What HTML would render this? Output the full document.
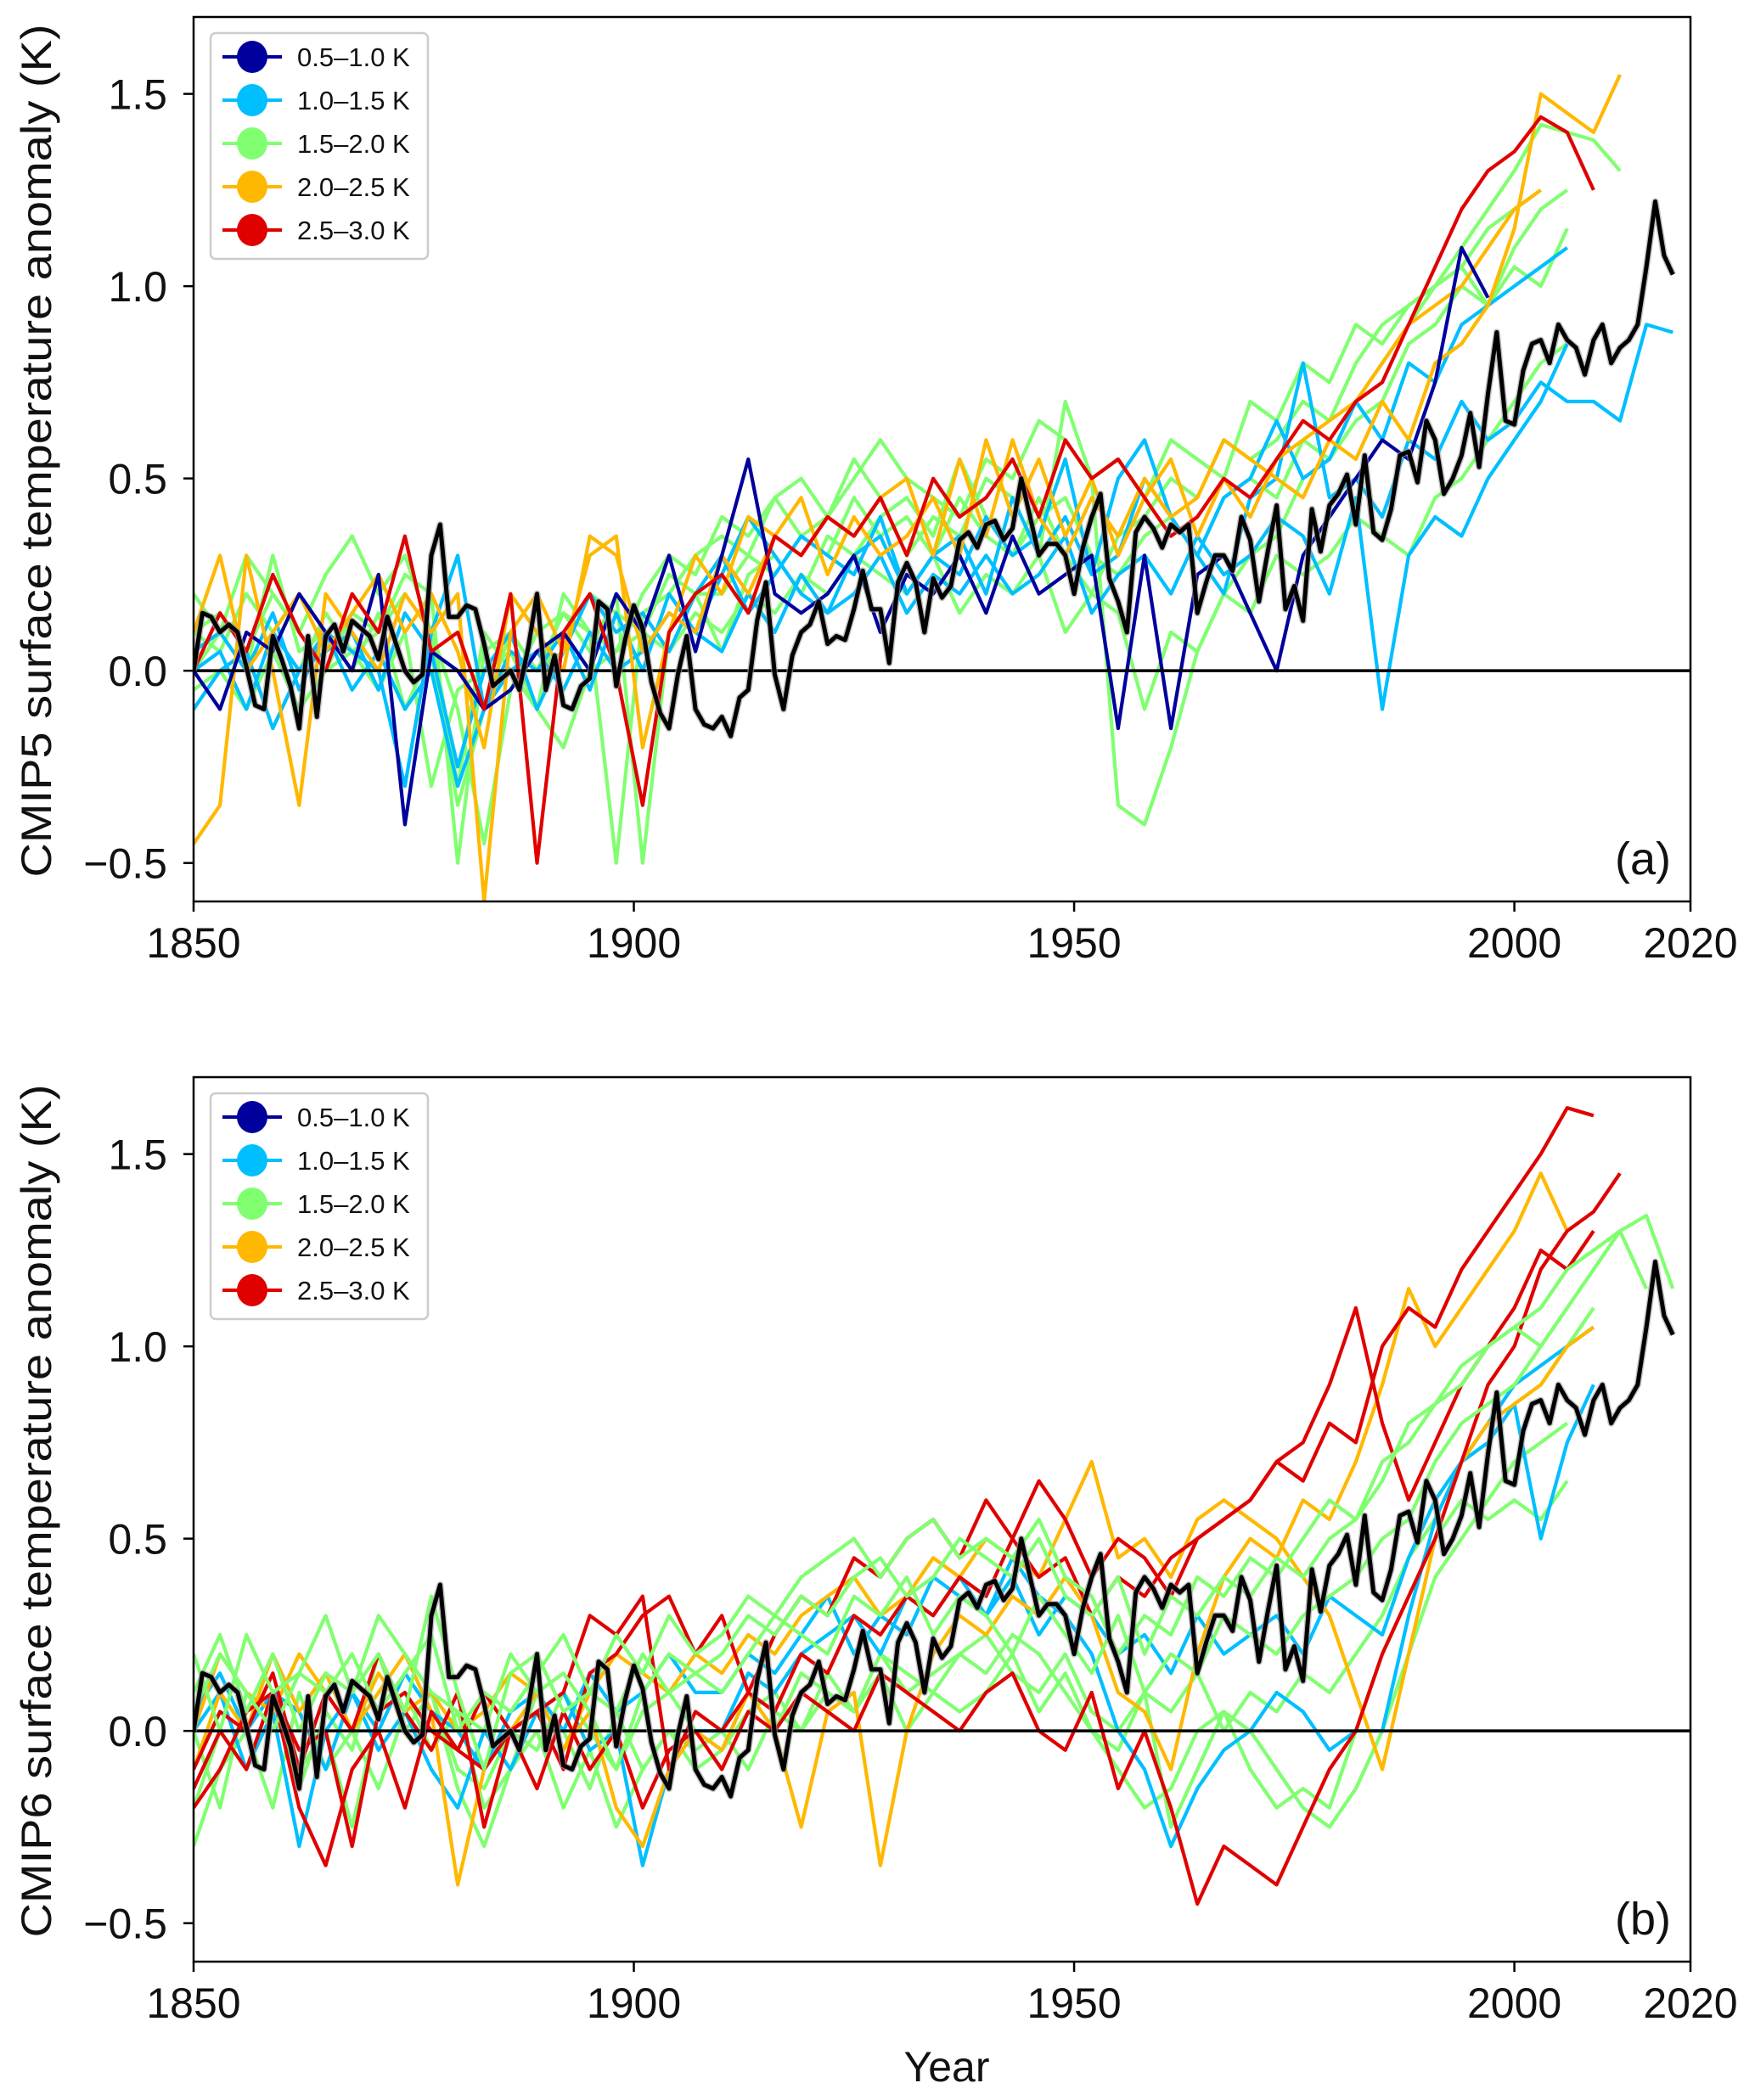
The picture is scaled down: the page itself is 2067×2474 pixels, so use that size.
<!DOCTYPE html>
<html><head><meta charset="utf-8">
<style>
html,body{margin:0;padding:0;background:#fff;}
svg{display:block;font-family:"Liberation Sans","DejaVu Sans",sans-serif;}
</style></head>
<body>
<svg id="fig" width="2067" height="2474" viewBox="0 0 2067 2474" xmlns="http://www.w3.org/2000/svg"></svg>
<script>
// ---------- data ----------
const xTickValues = [1850, 1900, 1950, 2000, 2020];
const xTickLabels = ["1850", "1900", "1950", "2000", "2020"];
const yTickValues = [-0.5, 0.0, 0.5, 1.0, 1.5];
const yTickLabels = ["\u22120.5", "0.0", "0.5", "1.0", "1.5"];
const legendLabels = ["0.5\u20131.0 K", "1.0\u20131.5 K", "1.5\u20132.0 K", "2.0\u20132.5 K", "2.5\u20133.0 K"];
const legendColors = ["#00009c", "#00bfff", "#80ff70", "#ffb800", "#e00000"];
const modelStartYear = 1850;
const modelStepYears = 3;
const obsStartYear = 1850;
// observed anomaly (K), annual 1850-2018
const obsValues = [
0.00,0.15,0.14,0.10,0.12,0.10,0.01,-0.09,-0.10,0.09,
0.03,-0.04,-0.15,0.09,-0.12,0.09,0.12,0.05,0.13,0.11,
0.09,0.03,0.14,0.07,0.00,-0.03,-0.01,0.30,0.38,0.14,
0.14,0.17,0.16,0.07,-0.04,-0.02,0.00,-0.05,0.06,0.20,
-0.05,0.04,-0.09,-0.10,-0.04,-0.02,0.18,0.16,-0.04,0.08,
0.17,0.11,-0.03,-0.11,-0.15,-0.01,0.09,-0.10,-0.14,-0.15,
-0.12,-0.17,-0.07,-0.05,0.13,0.23,-0.01,-0.10,0.04,0.10,
0.12,0.18,0.07,0.09,0.08,0.16,0.26,0.16,0.16,0.02,
0.23,0.28,0.23,0.10,0.24,0.19,0.22,0.34,0.36,0.32,
0.38,0.39,0.34,0.37,0.50,0.40,0.30,0.33,0.33,0.30,
0.20,0.32,0.40,0.46,0.24,0.18,0.10,0.36,0.40,0.37,
0.32,0.38,0.36,0.38,0.15,0.23,0.30,0.30,0.26,0.40,
0.34,0.18,0.31,0.43,0.16,0.22,0.13,0.42,0.31,0.43,
0.46,0.51,0.38,0.56,0.36,0.34,0.42,0.56,0.57,0.49,
0.65,0.60,0.46,0.50,0.56,0.67,0.53,0.72,0.88,0.65,
0.64,0.78,0.85,0.86,0.80,0.90,0.86,0.84,0.77,0.86,
0.90,0.80,0.84,0.86,0.90,1.05,1.22,1.08,1.03];

// Panel (a) CMIP5 model series, 3-yearly from 1850
const a_blue1 = [0.0,-0.1,0.1,0.05,0.2,0.1,0.0,0.25,-0.4,0.05, 0.0,-0.1,-0.05,0.05,0.1,0.0,0.2,0.1,0.3,0.05, 0.3,0.55,0.2,0.15,0.2,0.3,0.1,0.25,0.2,0.3, 0.15,0.35,0.2,0.25,0.3,-0.15,0.3,-0.15,0.25,0.3, 0.15,0.0,0.3,0.4,0.5,0.6,0.55,0.75,1.1,0.97];
const a_cyan1 = [0.05,0.1,0.0,0.15,-0.05,0.1,0.05,0.0,-0.3,0.1, 0.3,-0.1,0.05,0.0,0.1,-0.05,0.15,0.0,0.2,0.1, 0.25,0.4,0.3,0.2,0.15,0.3,0.35,0.2,0.3,0.25, 0.4,0.3,0.35,0.55,0.25,0.3,0.5,0.4,0.3,0.2, 0.45,0.5,0.8,0.45,0.5,0.4,0.6,0.55,0.7,0.6, 0.65,0.75,0.7,0.7,0.65,0.9,0.88];
const a_cyan2 = [0.0,0.05,-0.1,0.1,0.0,0.05,0.1,-0.05,0.15,0.05, -0.25,0.0,0.1,-0.1,0.05,0.2,0.1,0.15,0.05,0.2, 0.3,0.15,0.25,0.35,0.3,0.25,0.4,0.2,0.3,0.35, 0.2,0.45,0.3,0.4,0.25,0.5,0.6,0.4,0.3,0.45, 0.5,0.65,0.5,0.55,0.7,0.6,0.8,0.75,0.9,0.95, 1.0,1.05,1.1];
const a_cyan3 = [-0.1,0.0,0.05,-0.15,0.0,0.1,-0.05,0.05,-0.1,0.0, -0.3,-0.1,0.0,0.05,-0.05,0.1,0.0,0.05,0.15,0.1, 0.05,0.2,0.1,0.25,0.15,0.2,0.3,0.15,0.25,0.2, 0.3,0.2,0.25,0.35,0.15,0.25,0.3,0.2,0.35,0.25, 0.3,0.4,0.35,0.2,0.45,-0.1,0.3,0.4,0.35,0.5, 0.6,0.7,0.85];
const a_green1 = [0.1,0.05,0.2,0.1,0.0,0.15,0.05,0.1,0.2,0.1, -0.1,-0.45,-0.05,0.1,0.15,0.05,0.2,-0.5,0.1,0.2, 0.05,0.25,0.3,0.2,0.35,0.3,0.4,0.45,0.35,0.55, 0.4,0.3,0.45,0.3,0.2,0.35,0.4,0.5,0.45,0.6, 0.55,0.6,0.7,0.65,0.8,0.9,0.95,1.0,1.1,1.2, 1.3,1.42,1.4,1.38,1.3];
const a_green2 = [0.2,0.1,0.3,0.2,0.1,0.25,0.35,0.2,0.3,0.1, -0.3,0.1,0.0,-0.1,0.2,0.1,0.05,0.2,0.3,0.25, 0.4,0.35,0.45,0.5,0.4,0.55,0.45,0.3,0.4,0.35, 0.5,0.45,0.3,0.7,0.5,-0.35,-0.4,-0.2,0.05,0.2, 0.3,0.35,0.5,0.55,0.7,0.8,0.9,1.0,1.05,1.15, 1.2,1.25];
const a_green3 = [-0.05,0.0,-0.1,0.05,-0.1,0.0,0.05,-0.05,0.1,-0.3, -0.05,0.0,0.05,-0.1,-0.2,0.0,0.05,0.1,0.05,0.15, 0.1,0.2,0.15,0.25,0.2,0.3,0.25,0.2,0.3,0.15, 0.25,0.2,0.3,0.1,0.2,0.15,-0.1,0.1,0.05,0.2, 0.15,0.3,0.25,0.3,0.4,0.35,0.3,0.45,0.5,0.6, 0.7,0.8,0.85];
const a_green4 = [0.1,0.15,0.05,0.2,0.1,0.0,0.15,0.1,0.25,0.2, -0.5,0.05,0.1,0.0,0.15,0.1,-0.5,0.15,0.2,0.3, 0.35,0.3,0.45,0.35,0.4,0.5,0.6,0.5,0.45,0.4, 0.55,0.5,0.65,0.6,0.5,0.55,0.45,0.6,0.55,0.5, 0.7,0.65,0.8,0.75,0.9,0.85,0.95,1.0,1.05,0.95, 1.1,1.2,1.25];
const a_green5 = [0.0,0.1,0.0,0.3,0.05,0.1,0.0,0.15,-0.1,0.05, -0.35,-0.1,0.1,0.0,0.05,0.2,0.15,0.1,0.25,0.2, 0.2,0.3,0.25,0.35,0.3,0.45,0.35,0.4,0.3,0.45, 0.35,0.3,0.4,0.45,0.3,0.25,0.35,0.4,0.3,0.45, 0.5,0.45,0.6,0.55,0.65,0.7,0.85,0.9,1.0,0.95, 1.05,1.0,1.15];
const a_orange1 = [-0.45,-0.35,0.3,0.0,-0.35,0.2,0.1,0.0,0.2,0.1, 0.2,-0.6,0.1,0.2,0.05,0.3,0.35,-0.2,0.1,0.3, 0.2,0.4,0.35,0.3,0.4,0.35,0.45,0.5,0.3,0.55, 0.35,0.6,0.4,0.3,0.45,0.35,0.5,0.4,0.45,0.6, 0.55,0.5,0.45,0.6,0.55,0.7,0.6,0.8,0.85,0.95, 1.15,1.5,1.45,1.4,1.55];
const a_orange2 = [0.1,0.3,0.0,0.1,0.2,0.05,0.15,0.25,0.1,0.2, 0.05,-0.2,0.2,0.1,0.0,0.35,0.3,0.05,0.15,0.1, 0.3,0.2,0.35,0.45,0.25,0.4,0.3,0.35,0.45,0.3, 0.6,0.4,0.55,0.35,0.5,0.3,0.45,0.55,0.35,0.5, 0.4,0.55,0.6,0.65,0.7,0.8,0.9,0.95,1.0,1.1, 1.2,1.25];
const a_red1 = [0.0,0.15,0.05,0.25,0.1,0.0,0.2,0.1,0.35,0.05, 0.1,-0.1,0.2,-0.5,0.1,0.2,0.0,-0.35,0.1,0.2, 0.25,0.15,0.35,0.3,0.4,0.35,0.45,0.3,0.5,0.4, 0.45,0.55,0.4,0.6,0.5,0.55,0.45,0.35,0.4,0.5, 0.45,0.55,0.65,0.6,0.7,0.75,0.9,1.05,1.2,1.3, 1.35,1.44,1.4,1.25];

// Panel (b) CMIP6 model series
const b_cyan1 = [0.0,0.1,-0.1,0.05,-0.3,0.0,0.1,-0.05,0.05,-0.1, -0.2,0.0,-0.1,0.05,0.1,-0.05,0.0,-0.35,-0.1,0.0, 0.0,0.15,0.1,0.2,0.25,0.3,0.2,0.35,0.3,0.4, 0.3,0.45,0.35,0.3,0.2,0.0,-0.1,-0.3,-0.15,-0.05, 0.0,0.1,0.05,-0.05,0.0,0.0,0.3,0.55,0.7,0.8, 0.9,0.95,1.0,1.05];
const b_cyan2 = [0.05,0.15,0.0,0.1,0.05,-0.1,0.1,0.0,0.15,0.05, 0.0,-0.1,0.05,0.1,0.0,0.15,0.05,0.1,0.2,0.1, 0.1,0.2,0.15,0.25,0.35,0.2,0.3,0.25,0.4,0.35, 0.3,0.4,0.25,0.35,0.3,0.2,0.25,0.15,0.3,0.2, 0.25,0.3,0.2,0.35,0.3,0.25,0.45,0.6,0.7,0.75, 0.85,0.5,0.75,0.9];
const b_green1 = [-0.3,-0.1,0.0,-0.2,0.1,-0.1,0.0,-0.15,0.05,0.1, -0.15,-0.3,-0.1,0.0,-0.2,-0.05,-0.25,-0.1,0.0,-0.1, -0.05,0.1,0.0,0.15,0.1,0.05,0.2,0.1,0.15,0.2, 0.15,0.25,0.2,0.1,0.0,-0.1,-0.2,-0.15,0.0,0.05, -0.1,-0.2,-0.15,-0.2,0.0,0.2,0.35,0.5,0.6,0.55, 0.6,0.55,0.65];
const b_green2 = [0.2,0.0,0.25,0.1,0.15,0.3,0.1,0.2,0.05,0.35, 0.1,-0.1,0.15,0.2,0.05,0.1,0.25,0.15,0.3,0.2, 0.25,0.35,0.3,0.4,0.45,0.5,0.4,0.5,0.55,0.45, 0.5,0.45,0.55,0.4,0.35,0.2,0.3,0.25,0.4,0.35, 0.45,0.4,0.5,0.6,0.55,0.7,0.75,0.85,0.9,1.0, 1.05,1.1,1.2,1.25,1.3,1.15];
const b_green3 = [0.0,-0.2,0.1,0.05,-0.1,0.0,-0.25,0.05,0.1,-0.05, 0.05,-0.2,-0.1,0.1,0.0,-0.15,0.05,-0.1,0.0,-0.05, 0.0,-0.1,0.05,0.0,0.1,0.05,0.15,0.0,0.1,0.05, 0.1,0.2,0.05,0.15,0.0,-0.05,0.1,-0.25,-0.1,0.05, 0.0,-0.1,-0.2,-0.25,-0.15,0.0,0.2,0.4,0.5,0.6, 0.7,0.75,0.8];
const b_green4 = [0.1,0.25,0.05,0.2,0.0,0.15,0.1,0.3,0.2,0.1, 0.05,0.0,0.2,0.1,0.15,0.05,-0.1,0.1,0.2,0.15, 0.2,0.3,0.25,0.35,0.3,0.4,0.45,0.35,0.4,0.5, 0.45,0.4,0.5,0.35,0.3,0.4,0.2,0.35,0.3,0.4, 0.35,0.45,0.4,0.5,0.55,0.65,0.8,0.85,0.95,1.0, 1.05,1.0,1.1];
const b_green5 = [-0.2,0.0,-0.1,0.1,-0.15,0.05,-0.05,0.2,0.0,0.1, -0.1,-0.15,0.0,-0.05,0.1,0.0,-0.1,0.05,0.1,0.0, -0.05,0.05,0.1,0.0,0.15,0.05,0.2,0.15,0.1,0.2, 0.25,0.15,0.1,0.2,0.05,0.0,0.1,0.05,0.15,0.0, 0.1,0.05,0.15,0.1,0.2,0.3,0.45,0.55,0.7,0.75, 0.85,0.9,1.0,1.1];
const b_green6 = [0.05,0.2,0.1,0.0,0.15,0.1,0.2,0.05,0.15,0.25, 0.0,0.1,0.05,0.15,0.25,0.1,0.05,0.2,0.1,0.15, 0.1,0.2,0.3,0.25,0.2,0.35,0.3,0.4,0.25,0.35, 0.3,0.2,0.35,0.25,0.15,0.3,0.1,0.2,0.15,0.3, 0.25,0.2,0.3,0.35,0.4,0.5,0.55,0.7,0.8,0.85, 0.9,1.0,1.1,1.2,1.3,1.34,1.15];
const b_orange1 = [-0.1,0.1,0.0,0.2,0.05,0.15,0.0,0.1,0.2,0.05, -0.4,-0.1,0.0,0.1,-0.05,0.05,-0.2,-0.3,-0.1,0.0, -0.05,0.1,0.0,-0.25,0.05,0.1,-0.35,0.0,0.2,0.3, 0.25,0.35,0.3,0.4,0.3,0.1,0.05,-0.1,0.2,0.4, 0.5,0.45,0.6,0.55,0.7,0.9,1.15,1.0,1.1,1.2, 1.3,1.45,1.3];
const b_orange2 = [0.0,0.2,0.1,0.05,0.2,0.1,0.0,0.15,0.05,0.1, 0.0,0.05,0.15,0.1,-0.05,0.1,0.2,0.15,0.1,0.2, 0.15,0.25,0.2,0.3,0.35,0.4,0.3,0.35,0.45,0.4, 0.5,0.45,0.4,0.55,0.7,0.45,0.5,0.4,0.55,0.6, 0.55,0.5,0.4,0.3,0.1,-0.1,0.2,0.5,0.7,0.8, 0.85,0.9,1.0,1.05];
const b_red1 = [-0.2,-0.1,0.05,0.1,-0.05,0.0,-0.3,0.05,0.1,0.0, -0.05,0.1,0.0,0.05,-0.1,0.15,0.2,0.3,0.35,0.2, 0.3,0.1,0.25,0.35,0.3,0.45,0.4,0.5,0.55,0.45, 0.6,0.5,0.65,0.55,0.4,0.5,0.45,0.35,0.5,0.55, 0.6,0.7,0.65,0.8,0.75,1.0,1.1,1.05,1.2,1.3, 1.4,1.5,1.62,1.6];
const b_red2 = [-0.15,0.0,-0.1,0.1,-0.2,-0.35,-0.1,0.0,-0.2,0.05, -0.05,-0.1,0.0,-0.15,0.05,-0.1,0.0,-0.2,-0.05,0.0, -0.1,0.05,0.0,0.1,0.05,0.0,0.15,0.1,0.05,0.0, 0.1,0.15,0.0,-0.05,0.1,-0.15,0.0,-0.2,-0.45,-0.3, -0.35,-0.4,-0.25,-0.1,0.0,0.2,0.35,0.5,0.7,0.9, 1.0,1.2,1.3,1.35,1.45];
const b_red3 = [-0.1,0.05,0.0,0.15,-0.1,0.1,0.0,0.2,0.05,-0.05, 0.1,-0.25,0.0,0.05,0.1,0.3,0.25,0.35,-0.1,0.05, 0.0,0.1,0.05,0.2,0.15,0.3,0.25,0.35,0.3,0.4, 0.35,0.5,0.4,0.45,0.3,0.4,0.35,0.45,0.5,0.55, 0.6,0.7,0.75,0.9,1.1,0.8,0.6,0.75,0.9,1.0, 1.1,1.25,1.2,1.3];

const panelASeries = [
  [a_green1,2],[a_green2,2],[a_green3,2],[a_green4,2],[a_green5,2],
  [a_cyan3,1],[a_cyan2,1],[a_cyan1,1],[a_orange2,3],[a_orange1,3],[a_blue1,0],[a_red1,4]
];
const panelBSeries = [
  [b_green1,2],[b_green3,2],[b_green5,2],[b_cyan2,1],[b_cyan1,1],[b_orange2,3],[b_orange1,3],
  [b_red2,4],[b_red3,4],[b_red1,4],[b_green2,2],[b_green4,2],[b_green6,2]
];

// ---------- drawing ----------
const NS = "http://www.w3.org/2000/svg";
const svg = document.getElementById("fig");
const X0 = 228, X1 = 1991, XMIN = 1850, XMAX = 2020, YMIN = -0.6, YMAX = 1.7;
function mk(tag, attrs, parent){ const e = document.createElementNS(NS, tag); for (const k in attrs) e.setAttribute(k, attrs[k]); (parent||svg).appendChild(e); return e; }
function xs(v){ return X0 + (v - XMIN) / (XMAX - XMIN) * (X1 - X0); }

function drawPanel(top, bottom, series, yTitle, tag, key){
  const ys = v => bottom - (v - YMIN) / (YMAX - YMIN) * (bottom - top);
  const g = mk("g", {});
  
  
  mk("defs", {}, g).innerHTML = '<clipPath id="clip-' + key + '"><rect x="' + X0 + '" y="' + top + '" width="' + (X1 - X0) + '" height="' + (bottom - top) + '"/></clipPath>';
  const plot = mk("g", {"clip-path": "url(#clip-" + key + ")"}, g);
  
  
  series.forEach((s, si) => {
    const vals = s[0];
    const pts = vals.map((v, i) => xs(modelStartYear + i * modelStepYears).toFixed(1) + "," + ys(v).toFixed(1)).join(" ");
    const pl = mk("polyline", {points: pts, fill: "none", stroke: legendColors[s[1]], "stroke-width": 4.2, "stroke-linejoin": "round"}, plot);
    
    
  });
  const zl = mk("line", {x1: X0, x2: X1, y1: ys(0), y2: ys(0), stroke: "#000", "stroke-width": 3.5}, plot);
  
  
  const opts = obsValues.map((v, i) => xs(obsStartYear + i).toFixed(1) + "," + ys(v).toFixed(1)).join(" ");
  const sh = mk("polyline", {points: opts, fill: "none", stroke: "#999", "stroke-width": 8, "stroke-linejoin": "round", opacity: 0.6}, plot);
  
  
  const ob = mk("polyline", {points: opts, fill: "none", stroke: "#000", "stroke-width": 5, "stroke-linejoin": "round"}, plot);
  
  

  const fr = mk("rect", {x: X0, y: top, width: X1 - X0, height: bottom - top, fill: "none", stroke: "#000", "stroke-width": 2.5}, g);
  
  

  xTickValues.forEach((v, i) => {
    const t = mk("line", {x1: xs(v), x2: xs(v), y1: bottom, y2: bottom + 12, stroke: "#000", "stroke-width": 2.5}, g);
    
    
    const tx = mk("text", {x: xs(v), y: bottom + 66, "text-anchor": "middle", "font-size": 50, fill: "#111"}, g);
    tx.textContent = xTickLabels[i];
    
    
  });
  yTickValues.forEach((v, i) => {
    const t = mk("line", {x1: X0 - 12, x2: X0, y1: ys(v), y2: ys(v), stroke: "#000", "stroke-width": 2.5}, g);
    
    
    const tx = mk("text", {x: 197, y: ys(v) + 18, "text-anchor": "end", "font-size": 50, fill: "#111"}, g);
    tx.textContent = yTickLabels[i];
    
    
  });
  const cy = (top + bottom) / 2 - 10;
  const yt = mk("text", {x: 0, y: 0, transform: "translate(60," + cy + ") rotate(-90)", "text-anchor": "middle", "font-size": 50, fill: "#111", textLength: 1005, lengthAdjust: "spacingAndGlyphs"}, g);
  yt.textContent = yTitle;
  
  
  const pl = mk("text", {x: 1968, y: bottom - 32, "text-anchor": "end", "font-size": 54, fill: "#111"}, g);
  pl.textContent = tag;
  
  

  // legend
  const lg = mk("g", {}, g);
  
  
  const lt = top + 19;
  mk("rect", {x: 248, y: lt, width: 256, height: 266, rx: 6, fill: "#fff", "fill-opacity": 0.85, stroke: "#cccccc", "stroke-width": 2.5}, lg);
  legendLabels.forEach((lab, i) => {
    const yy = lt + 28 + i * 51;
    const en = mk("g", {}, lg);
    
    
    mk("line", {x1: 262, x2: 332, y1: yy, y2: yy, stroke: legendColors[i], "stroke-width": 4}, en);
    mk("ellipse", {cx: 297, cy: yy, rx: 18, ry: 19, fill: legendColors[i]}, en);
    const tx = mk("text", {x: 350, y: yy + 11, "font-size": 31, fill: "#111"}, en);
    tx.textContent = lab;
  });
}

drawPanel(20, 1062, panelASeries, "CMIP5 surface temperature  anomaly (K)", "(a)", "cmip5");
drawPanel(1269, 2311, panelBSeries, "CMIP6 surface temperature  anomaly (K)", "(b)", "cmip6");

const xl = mk("text", {x: 1115, y: 2452, "text-anchor": "middle", "font-size": 50, fill: "#111"});
xl.textContent = "Year";


</script>
</body></html>
